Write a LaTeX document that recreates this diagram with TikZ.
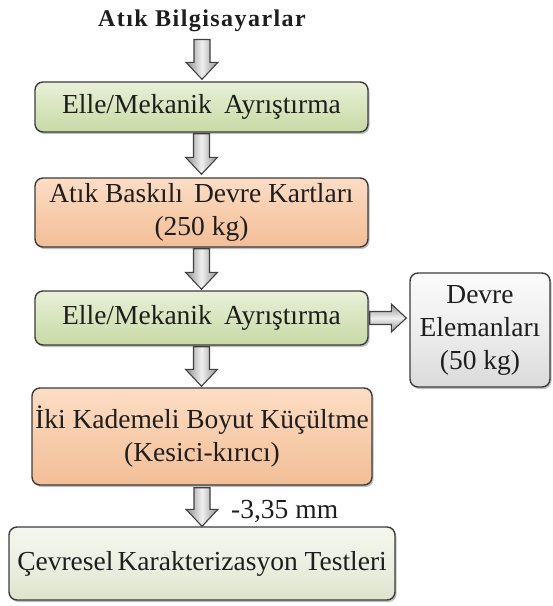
\documentclass[tikz,border=0pt]{standalone}
\usepackage{fontspec}
\setmainfont{Liberation Serif}
\usetikzlibrary{calc,shadows}
\definecolor{txt}{HTML}{1E1E1E}
\definecolor{boxline}{HTML}{3C3C3C}
\definecolor{grT}{HTML}{E9F0D8}
\definecolor{grM}{HTML}{D8E5BE}
\definecolor{grB}{HTML}{C8D9A6}
\definecolor{orT}{HTML}{FCDDC6}
\definecolor{orM}{HTML}{F8CDAB}
\definecolor{orB}{HTML}{F2BE98}
\definecolor{gyT}{HTML}{FBFBFB}
\definecolor{gyM}{HTML}{EEEEEE}
\definecolor{gyB}{HTML}{DADADA}
\definecolor{ltT}{HTML}{F5F7EE}
\definecolor{ltM}{HTML}{EBEFE1}
\definecolor{ltB}{HTML}{DDE4CD}
\definecolor{arE}{HTML}{8E8E8E}
\definecolor{arM}{HTML}{F0F0F0}
\definecolor{arline}{HTML}{404040}
\newcommand\vblk[2]{%
  \path[vblkstyle] let \p1=(#1), \p2=(#2) in
    (\x1-8pt,\y1) -- (\x1+8pt,\y1) -- (\x1+8pt,\y2+17pt) -- (\x1+16pt,\y2+17pt)
    -- (\x1,\y2) -- (\x1-16pt,\y2+17pt) -- (\x1-8pt,\y2+17pt) -- cycle;}
\newcommand\hblk[2]{%
  \path[hblkstyle] let \p1=(#1), \p2=(#2) in
    (\x1,\y1+6.5pt) -- (\x2-15pt,\y1+6.5pt) -- (\x2-15pt,\y1+14pt) -- (\x2,\y1)
    -- (\x2-15pt,\y1-14pt) -- (\x2-15pt,\y1-6.5pt) -- (\x1,\y1-6.5pt) -- cycle;}
\begin{document}
\begin{tikzpicture}[x=1pt,y=-1pt,
  box/.style={draw=boxline, line width=1.4pt, rounded corners=8pt, align=center,
    inner sep=0pt, text=txt, font=\fontsize{27.5}{33}\selectfont,
    drop shadow={shadow xshift=1.5pt, shadow yshift=-2pt, opacity=0.25, fill=black}},
  greenbox/.style={box, top color=grT, bottom color=grB, middle color=grM},
  orangebox/.style={box, top color=orT, bottom color=orB, middle color=orM},
  graybox/.style={box, top color=gyT, bottom color=gyB, middle color=gyM},
  lightbox/.style={box, top color=ltT, bottom color=ltB, middle color=ltM},
  vblkstyle/.style={draw=arline, line width=1.1pt, line join=miter, left color=arE, right color=arE, middle color=arM},
  hblkstyle/.style={draw=arline, line width=1.1pt, line join=miter, top color=arE, bottom color=arE, middle color=arM},
  plain/.style={inner sep=0pt, text=txt, font=\fontsize{27.5}{33}\selectfont}]
\useasboundingbox (0,0) rectangle (553,606);

\node[inner sep=0pt, anchor=base, text=txt,
  font=\fontsize{24}{28}\selectfont\bfseries\addfontfeatures{LetterSpace=6}] (title) at (202,26) {Atık Bilgisayarlar};

\node[greenbox, minimum width=333pt, minimum height=50pt] (b1) at (201.5,107) {Elle/Mekanik\hspace{0.45em}Ayrıştırma};
\node[orangebox, minimum width=333pt, minimum height=69pt] (b2) at (201.5,212.5) {Atık Baskılı\hspace{0.4em}Devre Kartları\\(250 kg)};
\node[greenbox, minimum width=333pt, minimum height=54pt] (b3) at (201.5,318) {Elle/Mekanik\hspace{0.45em}Ayrıştırma};
\node[graybox, minimum width=140pt, minimum height=114pt] (side) at (480,330) {Devre\\Elemanları\\(50 kg)};
\node[orangebox, minimum width=340pt, minimum height=97pt] (b4) at (202,436.5) {İki Kademeli Boyut Küçültme\\(Kesici-kırıcı)};
\node[lightbox, minimum width=386pt, minimum height=73pt] (b5) at (202,563.5) {Çevresel\hspace{0.15em}Karakterizasyon Testleri};

\node[plain, anchor=west] (lbl) at (231,512) {-3,35 mm};

\vblk{$(title.south)+(0,8)$}{$(b1.north)+(0,-2)$}
\vblk{$(b1.south)+(0,1)$}{$(b2.north)+(0,-3)$}
\vblk{$(b2.south)+(0,1)$}{$(b3.north)+(0,-1)$}
\vblk{$(b3.south)+(0,1)$}{$(b4.north)+(0,-1)$}
\vblk{$(b4.south)+(0,2)$}{$(b5.north)+(0,0)$}
\hblk{$(b3.east)+(1,0)$}{$(side.west |- b3.east)+(-3,0)$}
\end{tikzpicture}
\end{document}
